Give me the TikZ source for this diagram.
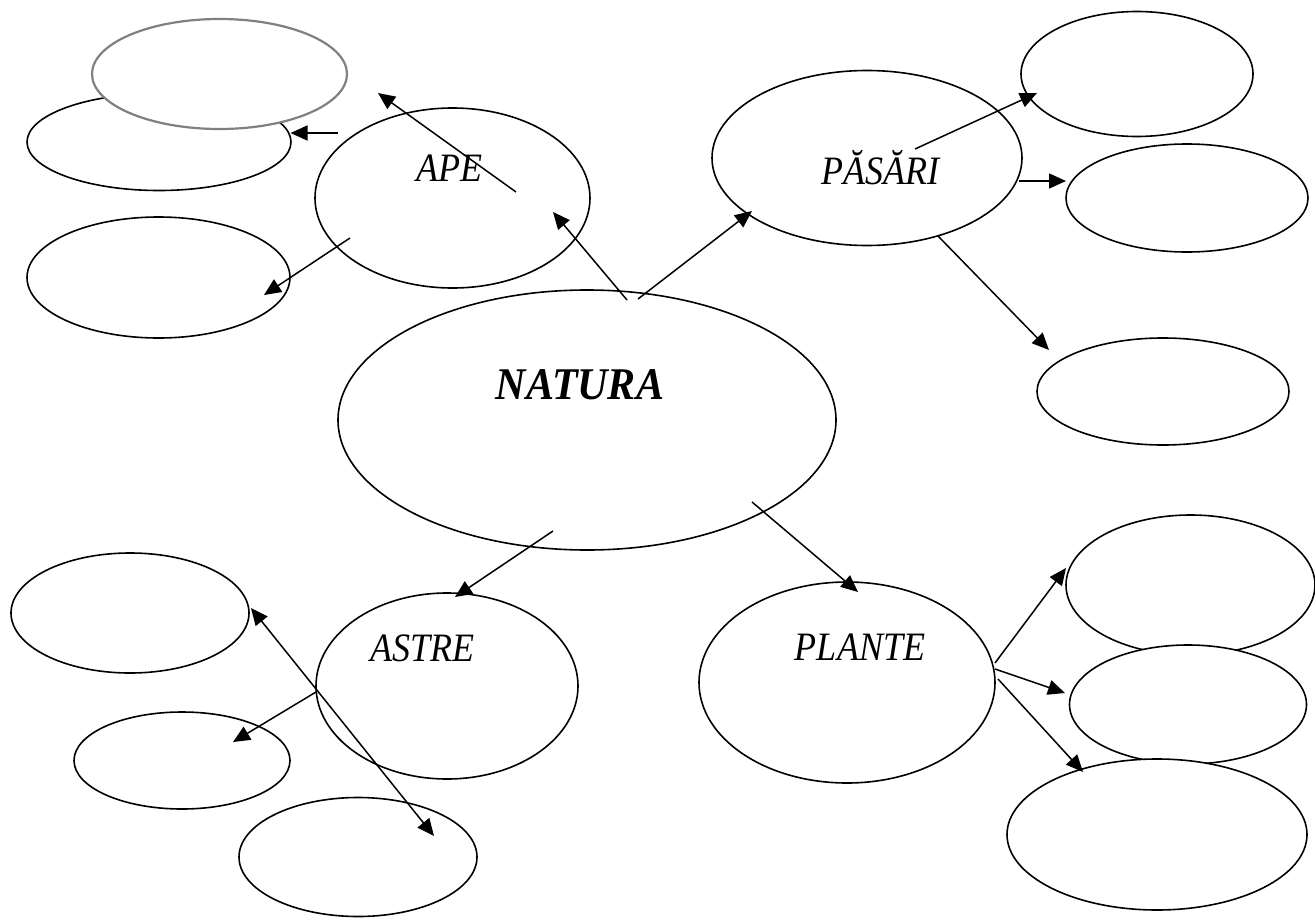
\documentclass[tikz,border=0pt]{standalone}
\usepackage{fontspec}
\setmainfont{Liberation Serif}
\usetikzlibrary{shapes.geometric,arrows.meta}
\tikzset{
  bub/.style={draw=black, fill=white, ellipse, line width=1.6pt, inner sep=0pt},
  graybub/.style={bub, draw={rgb,255:red,128;green,128;blue,128}, line width=2.2pt},
  lbl/.style={inner sep=0pt, font=\fontsize{36}{40}\selectfont\itshape, yscale=1.12},
  biglbl/.style={inner sep=0pt, font=\fontsize{42}{46}\selectfont\bfseries\itshape, yscale=1.08},
  arr/.style={line width=1.5pt, -{Triangle[length=17pt,width=15pt]}},
  darr/.style={line width=1.5pt, {Triangle[length=17pt,width=15pt]}-{Triangle[length=17pt,width=15pt]}}
}
\begin{document}
\begin{tikzpicture}[x=1pt,y=-1pt]
\useasboundingbox (0,0) rectangle (1315,918);
\fill[white] (0,0) rectangle (1315,918);
% left of APE
\node[bub, minimum width=264pt, minimum height=97pt] (ape1) at (159,142) {};
\node[graybub, minimum width=255pt, minimum height=110pt] (ape0) at (219.5,74) {};
\node[bub, minimum width=263pt, minimum height=121pt] (ape2) at (158.5,277.5) {};
\node[bub, minimum width=275pt, minimum height=180pt] (ape) at (452.5,198) {};
% centre
\node[bub, minimum width=498pt, minimum height=260pt] (natura) at (587,420) {};
% PASARI
\node[bub, minimum width=310pt, minimum height=175pt] (pasari) at (867,158) {};
\node[bub, minimum width=232pt, minimum height=125pt] (pas1) at (1137,74) {};
\node[bub, minimum width=242pt, minimum height=108pt] (pas2) at (1187,198) {};
\node[bub, minimum width=252pt, minimum height=107pt] (pas3) at (1163,391.5) {};
% ASTRE
\node[bub, minimum width=238pt, minimum height=120pt] (ast1) at (130,613) {};
\node[bub, minimum width=262pt, minimum height=186pt] (astre) at (447,686) {};
\node[bub, minimum width=216pt, minimum height=97pt] (ast2) at (182,760.5) {};
\node[bub, minimum width=238pt, minimum height=119pt] (ast3) at (358,857) {};
% PLANTE
\node[bub, minimum width=296pt, minimum height=201pt] (plante) at (847,682.5) {};
\node[bub, minimum width=249pt, minimum height=140pt] (pl1) at (1190.5,585) {};
\node[bub, minimum width=237pt, minimum height=119pt] (pl2) at (1188,704.5) {};
\node[bub, minimum width=300pt, minimum height=151pt] (pl3) at (1157,834.5) {};
% labels
\node[lbl] (tape) at (449,168) {APE};
\node[lbl] (tpasari) at (880,168) {PĂSĂRI};
\node[biglbl] (tnatura) at (580,385) {NATURA};
\node[lbl] (tastre) at (422,648) {ASTRE};
\node[lbl] (tplante) at (860,647) {PLANTE};
% connector end points
\coordinate (s1) at (516,192); \coordinate (e1) at (378,93);
\coordinate (s2) at (338,133); \coordinate (e2) at (290.5,133);
\coordinate (s3) at (350,238); \coordinate (e3) at (264,295);
\coordinate (s4) at (627,300); \coordinate (e4) at (553,212);
\coordinate (s5) at (638,299); \coordinate (e5) at (752,211);
\coordinate (s6) at (915,149); \coordinate (e6) at (1037,93);
\coordinate (s7) at (1019,181); \coordinate (e7) at (1066,181);
\coordinate (s8) at (938,236); \coordinate (e8) at (1049,350);
\coordinate (s9) at (553,531); \coordinate (e9) at (455,597);
\coordinate (s10) at (251,608); \coordinate (e10) at (434,836);
\coordinate (s11) at (316,692); \coordinate (e11) at (233,742);
\coordinate (s12) at (752,502); \coordinate (e12) at (858,592);
\coordinate (s13) at (995,663); \coordinate (e13) at (1066,568);
\coordinate (s14) at (995,669); \coordinate (e14) at (1065,693);
\coordinate (s15) at (998,679); \coordinate (e15) at (1083,772);
% connectors
\draw[arr] (s1) -- (e1);
\draw[arr] (s2) -- (e2);
\draw[arr] (s3) -- (e3);
\draw[arr] (s4) -- (e4);
\draw[arr] (s5) -- (e5);
\draw[arr] (s6) -- (e6);
\draw[arr] (s7) -- (e7);
\draw[arr] (s8) -- (e8);
\draw[arr] (s9) -- (e9);
\draw[darr] (s10) -- (e10);
\draw[arr] (s11) -- (e11);
\draw[arr] (s12) -- (e12);
\draw[arr] (s13) -- (e13);
\draw[arr] (s14) -- (e14);
\draw[arr] (s15) -- (e15);
\end{tikzpicture}
\end{document}
